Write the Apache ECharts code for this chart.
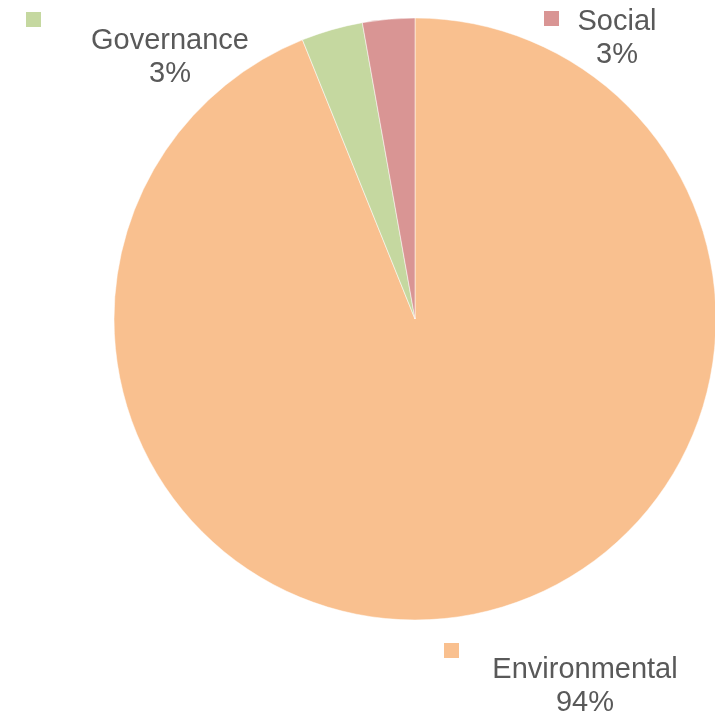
<!DOCTYPE html>
<html>
<head>
<meta charset="utf-8">
<script src="https://cdn.jsdelivr.net/npm/echarts@6/dist/echarts.min.js"></script>
<style>
  html, body { margin: 0; padding: 0; background: #fff; }
  #pie { width: 715px; height: 712px; }
</style>
</head>
<body>
<div id="pie"></div>
<script>
// slice names and shares (clockwise from 12 o'clock)
const categories = ["Environmental", "Governance", "Social"]
const values = [93.9, 3.3, 2.8]
const colors = ["#f9c08f", "#c5d8a0", "#d99594"]

// where each data label / legend key sits
const labelPos = [
  { x: 585, y: 686 },
  { x: 170, y: 57 },
  { x: 617, y: 38 }
]
const keyPos = [
  { left: 444, top: 643 },
  { left: 26, top: 12 },
  { left: 544, top: 11 }
]

const chart = echarts.init(document.getElementById("pie"))

const legends = categories.map((name, i) => ({
  data: [name],
  left: keyPos[i].left,
  top: keyPos[i].top,
  padding: 0,
  icon: "rect",
  itemWidth: 15,
  itemHeight: 15,
  itemStyle: { borderWidth: 0 },
  selectedMode: false,
  formatter: () => "",
  textStyle: { fontSize: 1 }
}))

const option = {
  animation: false,
  color: colors,
  legend: legends,
  series: [
    {
      type: "pie",
      center: [415, 319],
      radius: 301,
      startAngle: 90,
      clockwise: true,
      itemStyle: { borderColor: "#fff", borderWidth: 0.5 },
      label: {
        show: true,
        color: "#595959",
        fontFamily: "Liberation Sans",
        fontSize: 29,
        lineHeight: 33,
        align: "center",
        formatter: (p) => p.name + "\n" + Math.round(p.percent) + "%"
      },
      labelLine: { show: false },
      labelLayout: (params) => ({
        x: labelPos[params.dataIndex].x,
        y: labelPos[params.dataIndex].y,
        align: "center",
        verticalAlign: "middle"
      }),
      emphasis: { disabled: true },
      data: categories.map((name, i) => ({ name: name, value: values[i] }))
    }
  ]
}

chart.setOption(option)
</script>
</body>
</html>
